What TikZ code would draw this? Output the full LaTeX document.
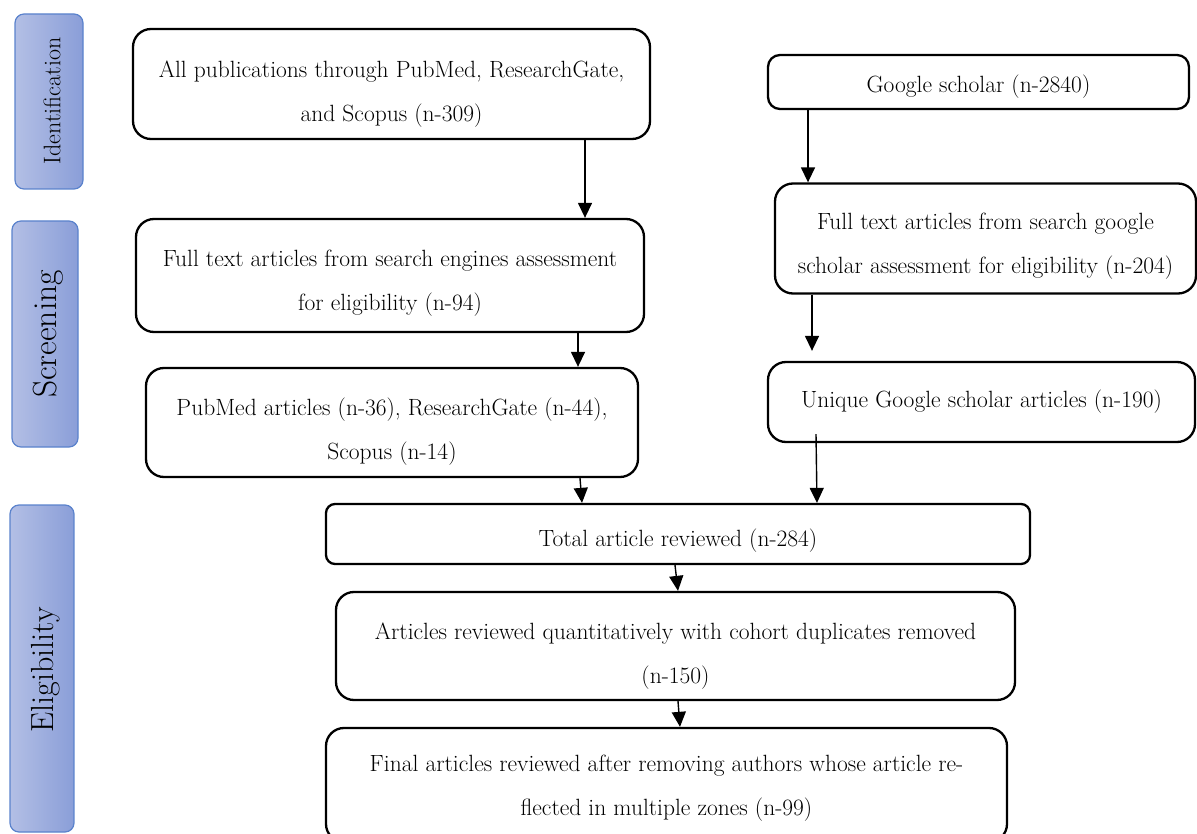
\documentclass[tikz,border=0pt]{standalone}
\usetikzlibrary{arrows.meta,calc}
\definecolor{sideL}{HTML}{B3BFE5}
\definecolor{sideR}{HTML}{8A9ED8}
\definecolor{sideB}{HTML}{5A82CC}
\newcommand\dn[1]{\rule{0pt}{#1pt}}
\tikzset{
  box/.style={draw=black, line width=2.3pt, rounded corners=18pt, inner sep=0pt,
    align=center, font=\fontsize{23.5}{44}\selectfont},
  sidebox/.style={draw=sideB, line width=1.2pt, rounded corners=9pt, left color=sideL, right color=sideR},
  sidetext/.style={rotate=90, inner sep=0pt},
  arr/.style={line width=1.4pt, -{Triangle[width=14pt,length=15pt]}},
}
\begin{document}
\begin{tikzpicture}[x=1pt,y=-1pt]
\useasboundingbox (0,0) rectangle (1197,834);
\clip (0,0) rectangle (1197,834);
% side bars
\path[sidebox] (15,14) rectangle (83,189);
\node[sidetext, font=\fontsize{24}{26}\selectfont] (idt) at (52,101) {Identification};
\path[sidebox] (12,221) rectangle (78,447);
\node[sidetext, font=\fontsize{33.5}{36}\selectfont] (scr) at (48,334) {Screening};
\path[sidebox] (10,505) rectangle (74,832);
\node[sidetext, font=\fontsize{32}{34}\selectfont] (eli) at (46,670) {Eligibility};
% boxes
\node[box, minimum width=517pt, minimum height=110pt] (A) at (391.5,84)
  {\dn{36.5}All publications through PubMed, ResearchGate,\\and Scopus (n-309)};
\node[box, rounded corners=12pt, minimum width=421pt, minimum height=54pt] (B) at (978.5,82)
  {\dn{26.5}Google scholar (n-2840)};
\node[box, minimum width=508pt, minimum height=113pt] (C) at (390,275.5)
  {\dn{32.5}Full text articles from search engines assessment\\for eligibility (n-94)};
\node[box, minimum width=421pt, minimum height=110pt] (D) at (985.5,238.5)
  {\dn{32.5}Full text articles from search google\\scholar assessment for eligibility (n-204)};
\node[box, minimum width=492pt, minimum height=109pt] (E) at (392,422.5)
  {\dn{36.5}PubMed articles (n-36), ResearchGate (n-44),\\Scopus (n-14)};
\node[box, minimum width=427pt, minimum height=80pt] (F) at (981.5,402)
  {Unique Google scholar articles (n-190)};
\node[box, rounded corners=9pt, minimum width=704pt, minimum height=60pt] (G) at (678,534)
  {\dn{30.5}Total article reviewed (n-284)};
\node[box, minimum width=679pt, minimum height=108pt] (H) at (675.5,646)
  {\dn{36.5}Articles reviewed quantitatively with cohort duplicates removed\\(n-150)};
\node[box, minimum width=681pt, minimum height=114pt] (I) at (666.5,785)
  {\dn{22.5}Final articles reviewed after removing authors whose article re-\\flected in multiple zones (n-99)};
% arrows
\draw[arr] ([xshift=193.5pt]A.south) -- ([xshift=195pt]C.north);
\draw[arr] ([xshift=-170.5pt]B.south) -- ([xshift=-177.5pt]D.north);
\draw[arr] ([xshift=188pt]C.south) -- ([xshift=186pt]E.north);
\draw[arr] ([xshift=-173.5pt]D.south) -- ([xshift=-169.5pt,yshift=10pt]F.north);
\draw[arr] ([xshift=-165.5pt,yshift=9pt]F.south) -- ([xshift=139pt]G.north);
\draw[arr] ([xshift=188pt]E.south) -- ([xshift=-96pt]G.north);
\draw[arr] ([xshift=-3pt]G.south) -- ([xshift=2.5pt]H.north);
\draw[arr] ([xshift=2.5pt]H.south) -- ([xshift=13.5pt]I.north);
\end{tikzpicture}
\end{document}
